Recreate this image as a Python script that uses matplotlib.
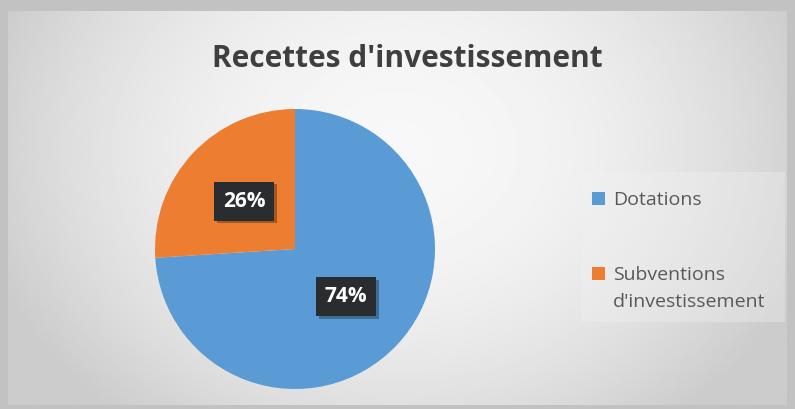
import numpy as np
import matplotlib

matplotlib.use("Agg")
import matplotlib.pyplot as plt
from matplotlib.patches import Rectangle
import matplotlib.patheffects as pe


TITLE = "Recettes d'investissement"
LABELS = ["Dotations", "Subventions\nd'investissement"]
SHARES = [74, 26]
COLORS = ["#5B9BD5", "#ED7D31"]

W, H = 795, 409

plt.rcParams["font.family"] = ["Open Sans", "DejaVu Sans"]

fig = plt.figure(figsize=(W / 100, H / 100), dpi=100)
fig.patch.set_facecolor("#c2c2c2")

# background panel with a soft radial gradient (pixel coords, y down)
bg = fig.add_axes([0, 0, 1, 1])
bg.set_xlim(0, W)
bg.set_ylim(H, 0)
bg.axis("off")
yy, xx = np.mgrid[0:200, 0:400]
dist = np.sqrt(((xx - 200) / 200) ** 2 + ((yy - 70) / 160) ** 2)
shade = np.clip(0.97 - 0.14 * dist ** 2, 0.80, 0.97)
bg.imshow(shade, cmap="gray", vmin=0, vmax=1, extent=(8, 787, 405, 11),
          aspect="auto", zorder=1)
bg.add_patch(Rectangle((582, 172), 203, 150, facecolor="#f2f2f2",
                       edgecolor="none", alpha=0.35, zorder=2))

fig.text(407 / W, 1 - 67 / H, TITLE, ha="center", va="baseline",
         fontsize=21.5, fontweight="bold", color="#3f3f3f")

ax = fig.add_axes([155 / W, 1 - 389 / H, 280 / W, 280 / H])
wedges, texts, autotexts = ax.pie(
    SHARES,
    colors=COLORS,
    startangle=90,
    counterclock=False,
    autopct="%d%%",
    pctdistance=0.5,
    wedgeprops={"linewidth": 0},
)
for t in autotexts:
    t.set_color("white")
    t.set_fontsize(15)
    t.set_fontweight("bold")
    t.set_bbox({"facecolor": "#2a2d30", "edgecolor": "none", "pad": 6.5})
    t.get_bbox_patch().set_path_effects(
        [pe.SimplePatchShadow(offset=(2, -2), shadow_rgbFace="#000000", alpha=0.3),
         pe.Normal()])
ax.set_xlim(-1, 1)
ax.set_ylim(-1, 1)
ax.set_aspect("auto")

# legend: square aligned with the first line of each label
legend_top = [198, 273]
for label, color, yc in zip(LABELS, COLORS, legend_top):
    bg.add_patch(Rectangle((592, yc - 6.5), 13, 13, facecolor=color,
                           edgecolor="none", zorder=3))
    for i, line in enumerate(label.split("\n")):
        bg.text(613, yc + 7 + 27 * i, line, ha="left", va="baseline",
                fontsize=14, color="#595959", zorder=3)

fig.savefig("out.png", dpi=100, facecolor=fig.get_facecolor())
